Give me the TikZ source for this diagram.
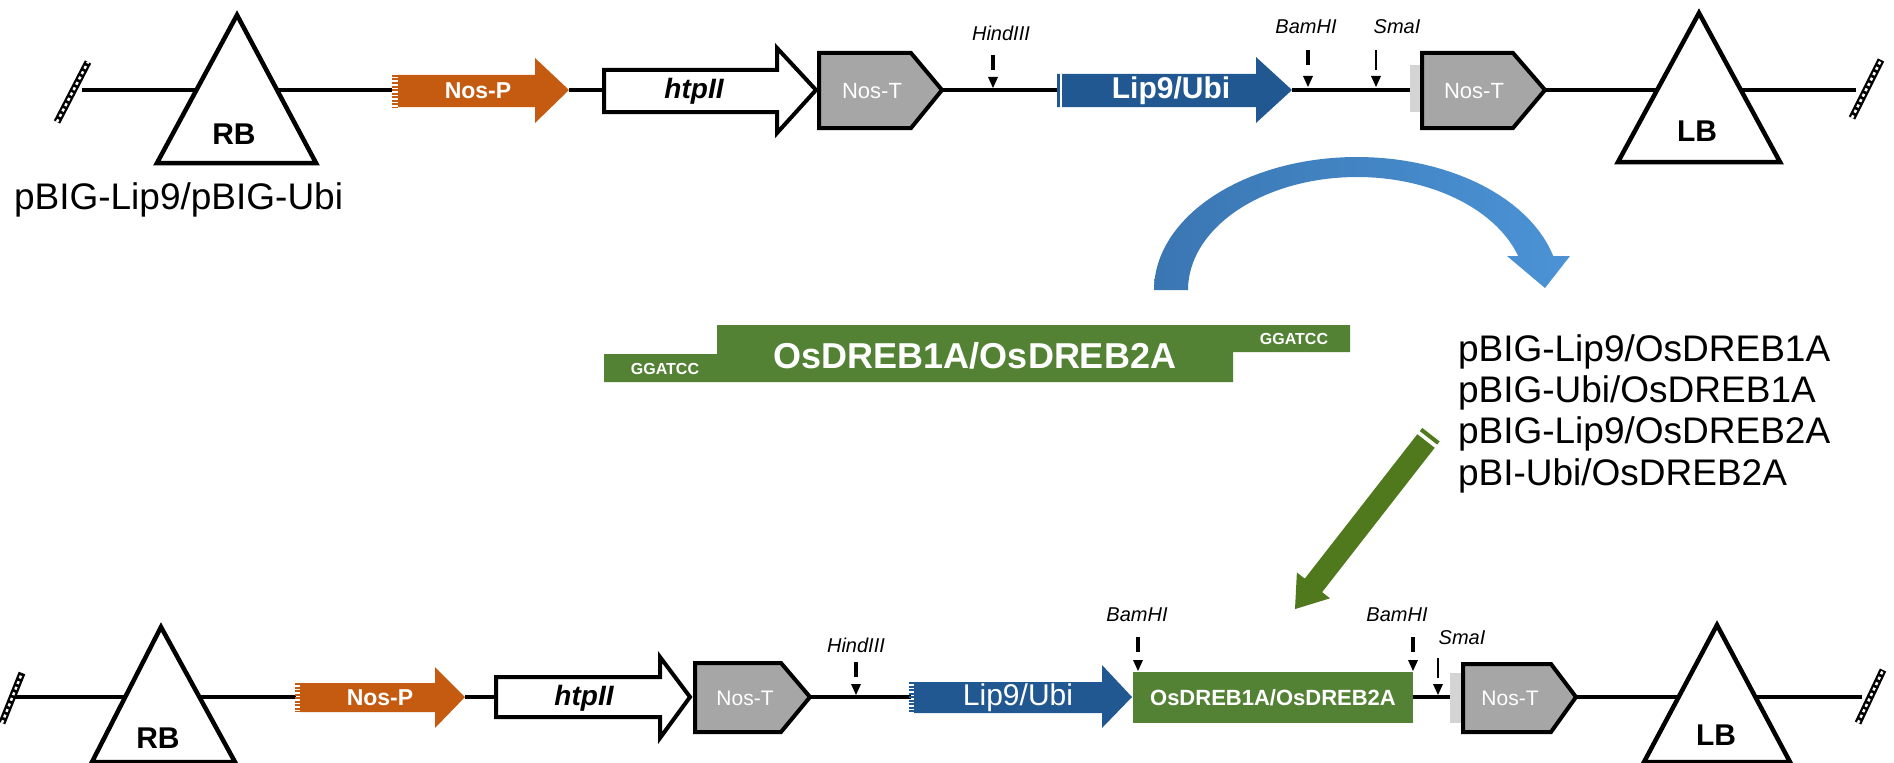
\documentclass[tikz,border=0pt]{standalone}
\usepackage{fontspec}
\setmainfont{Liberation Sans}
\definecolor{nosp}{HTML}{C55A11}
\definecolor{lipblue}{HTML}{215891}
\definecolor{nost}{HTML}{A6A6A6}
\definecolor{dreb}{HTML}{548235}
\definecolor{garrow}{HTML}{50781C}
\definecolor{carrowL}{HTML}{3A76B2}
\definecolor{carrowR}{HTML}{4B93D6}
\definecolor{stub}{HTML}{D4D4D4}
\tikzset{
  backbone/.style={line width=3.5bp, black},
  border/.style={line width=4bp, line join=miter},
  tri/.style={draw=black, fill=white, line width=4.5bp, line join=miter},
  lbl/.style={inner sep=0pt, outer sep=0pt},
  fs/.style={font=\fontsize{#1bp}{#1bp}\selectfont},
}
\newcommand\hatchmark[2]{%
  \draw[line width=7bp] #1 -- #2;
  \draw[white, line width=2.5bp, dash pattern=on 3bp off 3bp] #1 -- #2;}
% site marker: x, top of dash, base y
\newcommand\rsite[3]{%
  \fill ({#1-1.6},{#2}) rectangle ({#1+1.6},{#2+15});
  \fill ({#1-5},{#3-11}) -- ({#1+5},{#3-11}) -- ({#1},{#3}) -- cycle;}
\newcommand\rsitethin[3]{%
  \fill ({#1-0.9},{#2}) rectangle ({#1+0.9},{#2+20});
  \fill ({#1-5},{#3-11}) -- ({#1+5},{#3-11}) -- ({#1},{#3}) -- cycle;}
\begin{document}
\begin{tikzpicture}[x=1bp, y=-1bp]
\useasboundingbox (0,0) rectangle (1894,763);
\fill[white] (0,0) rectangle (1894,763);

%================ TOP ROW ================
\coordinate (tL) at (82,90);
\coordinate (tNPs) at (392,90);
\coordinate (tNPe) at (569,90);
\coordinate (tHTs) at (604,90);
\coordinate (tNT1e) at (942,90);
\coordinate (tLIs) at (1057,90);
\coordinate (tLIe) at (1292,90);
\coordinate (tST) at (1410,90);
\coordinate (tNT2e) at (1545,90);
\coordinate (tR) at (1856,90);
\draw[backbone] (tL) -- (tNPs);
\draw[backbone] (tNPe) -- (tHTs);
\draw[backbone] (tNT1e) -- (tLIs);
\draw[backbone] (tLIe) -- (tST);
\draw[backbone] (tNT2e) -- (tR);
\hatchmark{(57,122)}{(88,62)}
\hatchmark{(1852,118)}{(1881,60)}

\draw[tri] (237,15) -- (316,163) -- (157,163) -- cycle;
\node[lbl, font=\bfseries\fontsize{30bp}{30bp}\selectfont] (tRB) at (234,134) {RB};
\draw[tri] (1699,13) -- (1780,162) -- (1618,162) -- cycle;
\node[lbl, font=\bfseries\fontsize{30bp}{30bp}\selectfont] (tLB) at (1697,131) {LB};

\node[lbl, anchor=west, fs=37] (vec) at (14,200) {pBIG-Lip9/pBIG-Ubi};

% Nos-P
\fill[nosp] (398,75) -- (535,75) -- (535,58) -- (569,90) -- (535,123) -- (535,107) -- (398,107) -- cycle;
\draw[nosp, line width=6bp, dash pattern=on 2bp off 1.5bp] (395,75) -- (395,107);
\node[lbl, text=white, font=\bfseries\fontsize{23bp}{23bp}\selectfont] (tNP) at (478,91) {Nos-P};
% htpII
\draw[border, fill=white] (604,70) -- (777,70) -- (777,48) -- (816,90) -- (777,133) -- (777,112) -- (604,112) -- cycle;
\node[lbl, font=\bfseries\itshape\fontsize{28bp}{28bp}\selectfont] (tHT) at (694,91) {htpII};
% Nos-T 1
\draw[border, fill=nost] (819,53) -- (911,53) -- (942,90) -- (911,128) -- (819,128) -- cycle;
\node[lbl, text=white, fs=22] (tNT1) at (872,91) {Nos-T};
% HindIII
\rsite{993}{55}{88}
\node[lbl, font=\itshape\fontsize{20bp}{20bp}\selectfont] (tHind) at (1001,33) {HindIII};
% Lip9/Ubi
\fill[lipblue] (1057,74) -- (1256,74) -- (1256,57) -- (1292,90) -- (1256,123) -- (1256,107) -- (1057,107) -- cycle;
\draw[white, line width=1.5bp] (1061,74) -- (1061,107);
\node[lbl, text=white, font=\bfseries\fontsize{30bp}{30bp}\selectfont] (tLI) at (1171,91) {Lip9/Ubi};
% BamHI, SmaI
\rsite{1308}{50}{87}
\node[lbl, font=\itshape\fontsize{20bp}{20bp}\selectfont] (tBam) at (1306,27) {BamHI};
\rsitethin{1376}{50}{87}
\node[lbl, font=\itshape\fontsize{20bp}{20bp}\selectfont] (tSma) at (1397,27) {SmaI};
% stub + Nos-T 2
\fill[stub] (1410,65) rectangle (1422,112);
\draw[border, fill=nost] (1422,53) -- (1513,53) -- (1545,90) -- (1513,128) -- (1422,128) -- cycle;
\node[lbl, text=white, fs=22] (tNT2) at (1474,91) {Nos-T};

%================ CURVED ARROW ================
\shade[left color=carrowL, right color=carrowR]
  plot[domain=180:345.2, samples=60] ({1357+203*cos(\x)}, {290+133*sin(\x)})
  -- (1570,256) -- (1545,288) -- (1507,256)
  -- plot[domain=342.5:180, samples=60] ({1357+169*cos(\x)}, {290+113*sin(\x)})
  -- cycle;

%================ INSERT ================
\fill[dreb] (604,354) -- (717,354) -- (717,325) -- (1350,325) -- (1350,352) -- (1233,352) -- (1233,382) -- (604,382) -- cycle;
\node[lbl, text=white, font=\bfseries\fontsize{36bp}{36bp}\selectfont] (ins) at (975,356) {OsDREB1A/OsDREB2A};
\node[lbl, text=white, font=\bfseries\fontsize{16bp}{16bp}\selectfont] (g1) at (665,369) {GGATCC};
\node[lbl, text=white, font=\bfseries\fontsize{16bp}{16bp}\selectfont] (g2) at (1294,339) {GGATCC};

%================ CONSTRUCT LIST ================
\node[lbl, anchor=west, fs=37] (c1) at (1458,352) {pBIG-Lip9/OsDREB1A};
\node[lbl, anchor=west, fs=37] (c2) at (1458,393) {pBIG-Ubi/OsDREB1A};
\node[lbl, anchor=west, fs=37] (c3) at (1458,434) {pBIG-Lip9/OsDREB2A};
\node[lbl, anchor=west, fs=37] (c4) at (1458,476) {pBI-Ubi/OsDREB2A};

%================ GREEN ARROW ================
\begin{scope}[shift={(1426,441)}, x={(-0.615bp,-0.789bp)}, y={(0.789bp,-0.615bp)}]
  \fill[garrow] (0,-11) -- (183,-11) -- (183,-21) -- (213,0) -- (183,21) -- (183,11) -- (0,11) -- cycle;
  \fill[garrow] (-8,-11) -- (-4,-11) -- (-4,11) -- (-8,11) -- cycle;
\end{scope}

%================ BOTTOM ROW ================
\coordinate (bL) at (12,697);
\coordinate (bNPs) at (296,697);
\coordinate (bNPe) at (465,697);
\coordinate (bHTs) at (496,697);
\coordinate (bNT1e) at (810,697);
\coordinate (bLIs) at (911,697);
\coordinate (bDRe) at (1413,697);
\coordinate (bST) at (1450,697);
\coordinate (bNT2e) at (1576,697);
\coordinate (bR) at (1862,697);
\draw[backbone] (bL) -- (bNPs);
\draw[backbone] (bNPe) -- (bHTs);
\draw[backbone] (bNT1e) -- (bLIs);
\draw[backbone] (bDRe) -- (bST);
\draw[backbone] (bNT2e) -- (bR);
\hatchmark{(2,723)}{(22,673)}
\hatchmark{(1858,723)}{(1883,670)}

\draw[tri] (161,627) -- (235,762) -- (92,762) -- cycle;
\node[lbl, font=\bfseries\fontsize{30bp}{30bp}\selectfont] (bRB) at (158,738) {RB};
\draw[tri] (1717,625) -- (1790,762) -- (1644,762) -- cycle;
\node[lbl, font=\bfseries\fontsize{30bp}{30bp}\selectfont] (bLB) at (1716,735) {LB};

% Nos-P
\fill[nosp] (300,683) -- (435,683) -- (435,667) -- (465,697) -- (435,728) -- (435,712) -- (300,712) -- cycle;
\draw[nosp, line width=6bp, dash pattern=on 2bp off 1.5bp] (298,683) -- (298,712);
\node[lbl, text=white, font=\bfseries\fontsize{23bp}{23bp}\selectfont] (bNP) at (380,698) {Nos-P};
% htpII
\draw[border, fill=white] (496,677) -- (660,677) -- (660,657) -- (690,697) -- (660,738) -- (660,717) -- (496,717) -- cycle;
\node[lbl, font=\bfseries\itshape\fontsize{28bp}{28bp}\selectfont] (bHT) at (584,698) {htpII};
% Nos-T 1
\draw[border, fill=nost] (695,663) -- (781,663) -- (810,697) -- (781,732) -- (695,732) -- cycle;
\node[lbl, text=white, fs=21] (bNT1) at (745,698) {Nos-T};
% HindIII
\rsite{856}{662}{695}
\node[lbl, font=\itshape\fontsize{20bp}{20bp}\selectfont] (bHind) at (856,645) {HindIII};
% Lip9/Ubi
\fill[lipblue] (914,682) -- (1102,682) -- (1102,665) -- (1132,697) -- (1102,728) -- (1102,713) -- (914,713) -- cycle;
\draw[lipblue, line width=6bp, dash pattern=on 2bp off 1.5bp] (912,682) -- (912,713);
\node[lbl, text=white, fs=30] (bLI) at (1018,698) {Lip9/Ubi};
% OsDREB box
\fill[dreb] (1133,672) rectangle (1413,723);
\node[lbl, text=white, font=\bfseries\fontsize{22bp}{22bp}\selectfont] (bDR) at (1273,698) {OsDREB1A/OsDREB2A};
\rsite{1138}{637}{671}
\node[lbl, font=\itshape\fontsize{20bp}{20bp}\selectfont] (bBam1) at (1137,615) {BamHI};
\rsite{1413}{637}{671}
\node[lbl, font=\itshape\fontsize{20bp}{20bp}\selectfont] (bBam2) at (1397,615) {BamHI};
\rsitethin{1438}{658}{695}
\node[lbl, font=\itshape\fontsize{20bp}{20bp}\selectfont] (bSma) at (1462,638) {SmaI};
% stub + Nos-T 2
\fill[stub] (1450,673) rectangle (1463,723);
\draw[border, fill=nost] (1463,664) -- (1551,664) -- (1576,697) -- (1551,732) -- (1463,732) -- cycle;
\node[lbl, text=white, fs=21] (bNT2) at (1510,698) {Nos-T};
\end{tikzpicture}
\end{document}
